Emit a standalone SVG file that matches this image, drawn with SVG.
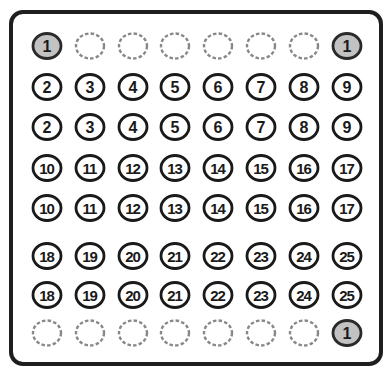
<svg xmlns="http://www.w3.org/2000/svg" width="385" height="368" viewBox="0 0 385 368">
<style>
.frame{fill:#fff;stroke:#1e1e1e;stroke-width:4}
.n{fill:#fff;stroke:#1a1a1a;stroke-width:2.8}
.g{fill:#c2c2c2;stroke:#2a2a2a;stroke-width:2.8}
.d{fill:none;stroke:#888;stroke-width:2.4;stroke-dasharray:3.5 2.2}
text{font-family:"Liberation Sans",Arial,sans-serif;font-weight:bold;fill:#1a1a1a;text-anchor:middle}
.t1{font-size:16px}
.t2{font-size:15px;letter-spacing:-1px}
</style>
<rect class="frame" x="11" y="12" width="370" height="352" rx="12"/>
<g id="r1">
<g id="n1a"><ellipse class="g" cx="47" cy="46" rx="14" ry="12.5"/><text class="t1" x="47" y="51.5">1</text></g>
<g id="e1b"><ellipse class="d" cx="90" cy="46" rx="14" ry="12.5"/></g>
<g id="e1c"><ellipse class="d" cx="133" cy="46" rx="14" ry="12.5"/></g>
<g id="e1d"><ellipse class="d" cx="175" cy="46" rx="14" ry="12.5"/></g>
<g id="e1e"><ellipse class="d" cx="218" cy="46" rx="14" ry="12.5"/></g>
<g id="e1f"><ellipse class="d" cx="261" cy="46" rx="14" ry="12.5"/></g>
<g id="e1g"><ellipse class="d" cx="304" cy="46" rx="14" ry="12.5"/></g>
<g id="n1h"><ellipse class="g" cx="347" cy="46" rx="14" ry="12.5"/><text class="t1" x="347" y="51.5">1</text></g>
</g>
<g id="r2">
<g id="n2a"><ellipse class="n" cx="47" cy="87" rx="14" ry="12.5"/><text class="t1" x="47" y="92.5">2</text></g>
<g id="n3a"><ellipse class="n" cx="90" cy="87" rx="14" ry="12.5"/><text class="t1" x="90" y="92.5">3</text></g>
<g id="n4a"><ellipse class="n" cx="133" cy="87" rx="14" ry="12.5"/><text class="t1" x="133" y="92.5">4</text></g>
<g id="n5a"><ellipse class="n" cx="175" cy="87" rx="14" ry="12.5"/><text class="t1" x="175" y="92.5">5</text></g>
<g id="n6a"><ellipse class="n" cx="218" cy="87" rx="14" ry="12.5"/><text class="t1" x="218" y="92.5">6</text></g>
<g id="n7a"><ellipse class="n" cx="261" cy="87" rx="14" ry="12.5"/><text class="t1" x="261" y="92.5">7</text></g>
<g id="n8a"><ellipse class="n" cx="304" cy="87" rx="14" ry="12.5"/><text class="t1" x="304" y="92.5">8</text></g>
<g id="n9a"><ellipse class="n" cx="347" cy="87" rx="14" ry="12.5"/><text class="t1" x="347" y="92.5">9</text></g>
</g>
<g id="r3">
<g id="n2b"><ellipse class="n" cx="47" cy="127" rx="14" ry="12.5"/><text class="t1" x="47" y="132.5">2</text></g>
<g id="n3b"><ellipse class="n" cx="90" cy="127" rx="14" ry="12.5"/><text class="t1" x="90" y="132.5">3</text></g>
<g id="n4b"><ellipse class="n" cx="133" cy="127" rx="14" ry="12.5"/><text class="t1" x="133" y="132.5">4</text></g>
<g id="n5b"><ellipse class="n" cx="175" cy="127" rx="14" ry="12.5"/><text class="t1" x="175" y="132.5">5</text></g>
<g id="n6b"><ellipse class="n" cx="218" cy="127" rx="14" ry="12.5"/><text class="t1" x="218" y="132.5">6</text></g>
<g id="n7b"><ellipse class="n" cx="261" cy="127" rx="14" ry="12.5"/><text class="t1" x="261" y="132.5">7</text></g>
<g id="n8b"><ellipse class="n" cx="304" cy="127" rx="14" ry="12.5"/><text class="t1" x="304" y="132.5">8</text></g>
<g id="n9b"><ellipse class="n" cx="347" cy="127" rx="14" ry="12.5"/><text class="t1" x="347" y="132.5">9</text></g>
</g>
<g id="r4">
<g id="n10a"><ellipse class="n" cx="47" cy="168" rx="14" ry="12.5"/><text class="t2" x="46.5" y="173.5">10</text></g>
<g id="n11a"><ellipse class="n" cx="90" cy="168" rx="14" ry="12.5"/><text class="t2" x="89.5" y="173.5">11</text></g>
<g id="n12a"><ellipse class="n" cx="133" cy="168" rx="14" ry="12.5"/><text class="t2" x="132.5" y="173.5">12</text></g>
<g id="n13a"><ellipse class="n" cx="175" cy="168" rx="14" ry="12.5"/><text class="t2" x="174.5" y="173.5">13</text></g>
<g id="n14a"><ellipse class="n" cx="218" cy="168" rx="14" ry="12.5"/><text class="t2" x="217.5" y="173.5">14</text></g>
<g id="n15a"><ellipse class="n" cx="261" cy="168" rx="14" ry="12.5"/><text class="t2" x="260.5" y="173.5">15</text></g>
<g id="n16a"><ellipse class="n" cx="304" cy="168" rx="14" ry="12.5"/><text class="t2" x="303.5" y="173.5">16</text></g>
<g id="n17a"><ellipse class="n" cx="347" cy="168" rx="14" ry="12.5"/><text class="t2" x="346.5" y="173.5">17</text></g>
</g>
<g id="r5">
<g id="n10b"><ellipse class="n" cx="47" cy="208" rx="14" ry="12.5"/><text class="t2" x="46.5" y="213.5">10</text></g>
<g id="n11b"><ellipse class="n" cx="90" cy="208" rx="14" ry="12.5"/><text class="t2" x="89.5" y="213.5">11</text></g>
<g id="n12b"><ellipse class="n" cx="133" cy="208" rx="14" ry="12.5"/><text class="t2" x="132.5" y="213.5">12</text></g>
<g id="n13b"><ellipse class="n" cx="175" cy="208" rx="14" ry="12.5"/><text class="t2" x="174.5" y="213.5">13</text></g>
<g id="n14b"><ellipse class="n" cx="218" cy="208" rx="14" ry="12.5"/><text class="t2" x="217.5" y="213.5">14</text></g>
<g id="n15b"><ellipse class="n" cx="261" cy="208" rx="14" ry="12.5"/><text class="t2" x="260.5" y="213.5">15</text></g>
<g id="n16b"><ellipse class="n" cx="304" cy="208" rx="14" ry="12.5"/><text class="t2" x="303.5" y="213.5">16</text></g>
<g id="n17b"><ellipse class="n" cx="347" cy="208" rx="14" ry="12.5"/><text class="t2" x="346.5" y="213.5">17</text></g>
</g>
<g id="r6">
<g id="n18a"><ellipse class="n" cx="47" cy="256" rx="14" ry="12.5"/><text class="t2" x="46.5" y="261.5">18</text></g>
<g id="n19a"><ellipse class="n" cx="90" cy="256" rx="14" ry="12.5"/><text class="t2" x="89.5" y="261.5">19</text></g>
<g id="n20a"><ellipse class="n" cx="133" cy="256" rx="14" ry="12.5"/><text class="t2" x="132.5" y="261.5">20</text></g>
<g id="n21a"><ellipse class="n" cx="175" cy="256" rx="14" ry="12.5"/><text class="t2" x="174.5" y="261.5">21</text></g>
<g id="n22a"><ellipse class="n" cx="218" cy="256" rx="14" ry="12.5"/><text class="t2" x="217.5" y="261.5">22</text></g>
<g id="n23a"><ellipse class="n" cx="261" cy="256" rx="14" ry="12.5"/><text class="t2" x="260.5" y="261.5">23</text></g>
<g id="n24a"><ellipse class="n" cx="304" cy="256" rx="14" ry="12.5"/><text class="t2" x="303.5" y="261.5">24</text></g>
<g id="n25a"><ellipse class="n" cx="347" cy="256" rx="14" ry="12.5"/><text class="t2" x="346.5" y="261.5">25</text></g>
</g>
<g id="r7">
<g id="n18b"><ellipse class="n" cx="47" cy="295" rx="14" ry="12.5"/><text class="t2" x="46.5" y="300.5">18</text></g>
<g id="n19b"><ellipse class="n" cx="90" cy="295" rx="14" ry="12.5"/><text class="t2" x="89.5" y="300.5">19</text></g>
<g id="n20b"><ellipse class="n" cx="133" cy="295" rx="14" ry="12.5"/><text class="t2" x="132.5" y="300.5">20</text></g>
<g id="n21b"><ellipse class="n" cx="175" cy="295" rx="14" ry="12.5"/><text class="t2" x="174.5" y="300.5">21</text></g>
<g id="n22b"><ellipse class="n" cx="218" cy="295" rx="14" ry="12.5"/><text class="t2" x="217.5" y="300.5">22</text></g>
<g id="n23b"><ellipse class="n" cx="261" cy="295" rx="14" ry="12.5"/><text class="t2" x="260.5" y="300.5">23</text></g>
<g id="n24b"><ellipse class="n" cx="304" cy="295" rx="14" ry="12.5"/><text class="t2" x="303.5" y="300.5">24</text></g>
<g id="n25b"><ellipse class="n" cx="347" cy="295" rx="14" ry="12.5"/><text class="t2" x="346.5" y="300.5">25</text></g>
</g>
<g id="r8">
<g id="e8a"><ellipse class="d" cx="47" cy="333" rx="14" ry="12.5"/></g>
<g id="e8b"><ellipse class="d" cx="90" cy="333" rx="14" ry="12.5"/></g>
<g id="e8c"><ellipse class="d" cx="133" cy="333" rx="14" ry="12.5"/></g>
<g id="e8d"><ellipse class="d" cx="175" cy="333" rx="14" ry="12.5"/></g>
<g id="e8e"><ellipse class="d" cx="218" cy="333" rx="14" ry="12.5"/></g>
<g id="e8f"><ellipse class="d" cx="261" cy="333" rx="14" ry="12.5"/></g>
<g id="e8g"><ellipse class="d" cx="304" cy="333" rx="14" ry="12.5"/></g>
<g id="n1c"><ellipse class="g" cx="347" cy="333" rx="14" ry="12.5"/><text class="t1" x="347" y="338.5">1</text></g>
</g>
</svg>
